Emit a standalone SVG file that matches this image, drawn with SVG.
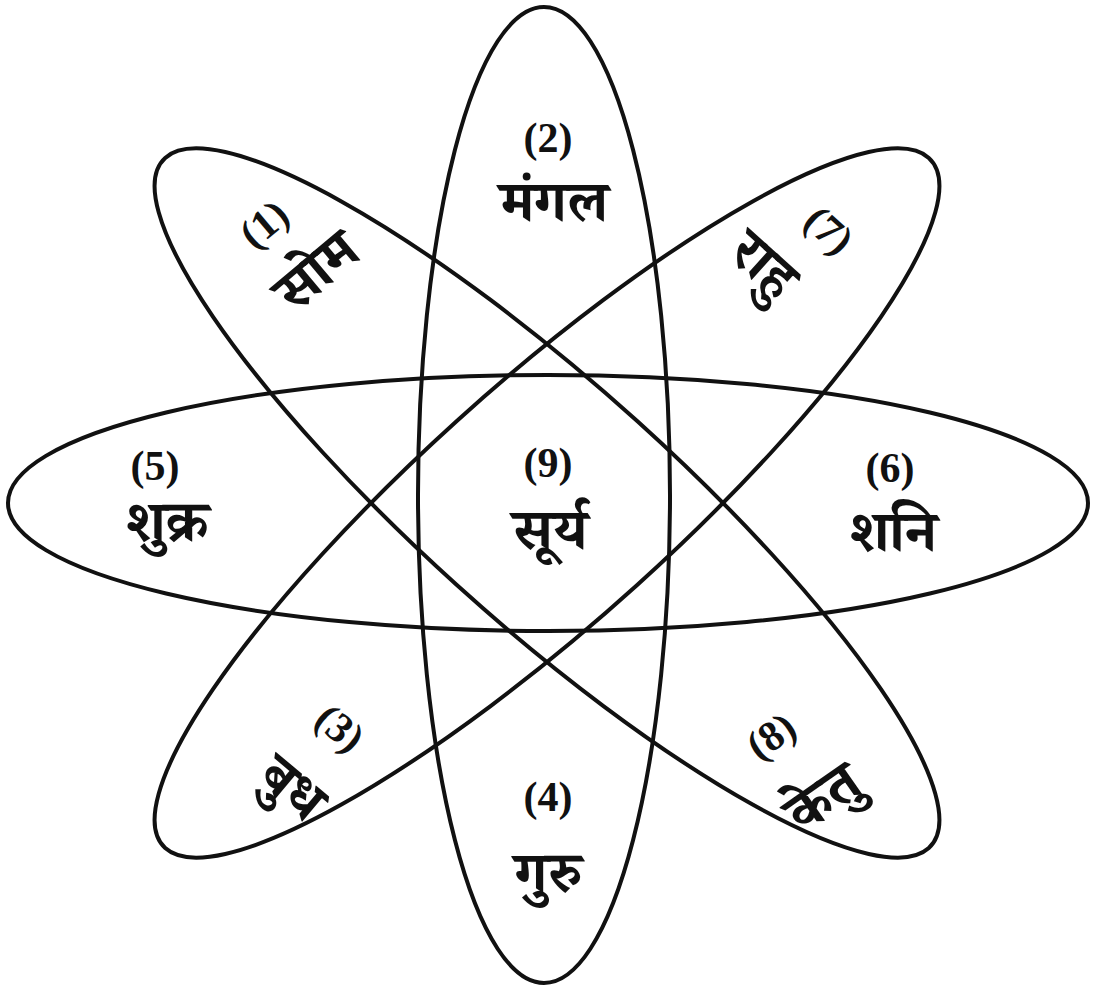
<svg xmlns="http://www.w3.org/2000/svg" width="1093" height="986" viewBox="0 0 1093 986">
<style>
.e{fill:none;stroke:#111;stroke-width:4}
.n{font-family:"Liberation Serif","Noto Serif",serif;font-weight:bold;font-size:42px;fill:#111;text-anchor:middle;dominant-baseline:central}
.d{font-family:"Noto Serif Devanagari","Noto Sans Devanagari","Liberation Serif",serif;font-weight:bold;font-size:58px;fill:#111;text-anchor:middle;dominant-baseline:central}
</style>
<rect width="1093" height="986" fill="#fff"/>
<g id="connectors">
<ellipse class="e" cx="548" cy="503" rx="540" ry="128"/>
<ellipse class="e" cx="544" cy="495" rx="126" ry="488"/>
<g transform="translate(547,503) scale(1.0485,0.9476)">
<ellipse class="e" vector-effect="non-scaling-stroke" cx="0" cy="0" rx="515" ry="122" transform="rotate(45)"/>
<ellipse class="e" vector-effect="non-scaling-stroke" cx="0" cy="0" rx="515" ry="122" transform="rotate(-45)"/>
</g>
</g>
<g id="n1"><text class="n" transform="translate(264,224) rotate(-40)">(1)</text><text class="d" transform="translate(323,279) rotate(-40)">सोम</text></g>
<g id="n2"><text class="n" x="548" y="138">(2)</text><text class="d" x="554" y="212">मंगल</text></g>
<g id="n7"><text class="n" transform="translate(829,230) rotate(42)">(7)</text><text class="d" transform="translate(757,272) rotate(42)">राहु</text></g>
<g id="n5"><text class="n" x="155" y="466">(5)</text><text class="d" x="167" y="532">शुक्र</text></g>
<g id="n9"><text class="n" x="548" y="463">(9)</text><text class="d" x="550" y="540">सूर्य</text></g>
<g id="n6"><text class="n" x="890" y="468">(6)</text><text class="d" x="893" y="542">शनि</text></g>
<g id="n3"><text class="n" transform="translate(340,728) rotate(40)">(3)</text><text class="d" transform="translate(286,796) rotate(40)">बुध</text></g>
<g id="n4"><text class="n" x="548" y="797">(4)</text><text class="d" x="548" y="883">गुरु</text></g>
<g id="n8"><text class="n" transform="translate(771,736) rotate(-35)">(8)</text><text class="d" transform="translate(829,806) rotate(-35)">केतु</text></g>
</svg>
